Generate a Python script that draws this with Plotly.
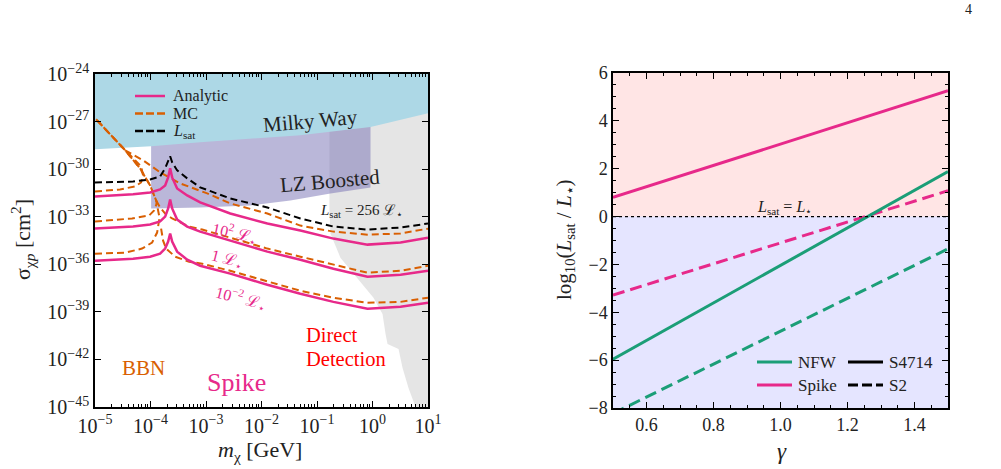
import numpy as np
import plotly.graph_objects as go

FONT = "Liberation Serif"
PINK = "#e7298a"
ORANGE = "#d95f02"
GREEN = "#1b9e77"

# ---------------- Left panel data (log10 m [GeV], log10 sigma [cm^2]) ----------------
lm_an = [-5.000, -4.314, -4.007, -3.827, -3.736, -3.682, -3.646, -3.610, -3.520, -3.339,
         -3.105, -2.563, -1.895, -1.300, -0.704, -0.090, 0.505, 1.0]
ls_an_1e2 = [-31.72, -31.59, -31.47, -31.28, -31.03, -30.52, -29.95, -30.52, -31.22, -31.66,
             -32.10, -32.80, -33.43, -33.87, -34.38, -34.76, -34.63, -34.32]
ls_an_1 = [-33.75, -33.62, -33.49, -33.30, -32.99, -32.48, -31.91, -32.48, -33.18, -33.62,
           -33.94, -34.51, -35.20, -35.71, -36.28, -36.78, -36.66, -36.41]
ls_an_1em2 = [-35.77, -35.65, -35.52, -35.33, -35.01, -34.57, -34.06, -34.57, -35.20, -35.71,
              -36.09, -36.59, -37.29, -37.86, -38.37, -38.81, -38.68, -38.43]
ls_lsat = [-30.84, -30.78, -30.65, -30.46, -29.95, -29.51, -29.19, -29.57, -30.08, -30.58,
           -31.15, -31.85, -32.42, -33.11, -33.62, -33.81, -33.68, -33.43]

# MC curves: low-mass branch (returns up along the attenuation ceiling) and high-mass branch
lm_mc1_low = [-5.000, -4.549, -4.278, -4.170, -4.134, -4.170, -4.278, -4.458, -4.729, -5.000]
ls_mc1_low = [-31.41, -31.28, -31.09, -30.84, -30.39, -29.82, -29.44, -28.81, -27.80, -26.78]
lm_mc1_high = [-4.458, -4.134, -3.827, -3.466, -2.978, -2.563, -1.895, -1.300, -0.704, -0.090, 0.505, 1.0]
ls_mc1_high = [-28.81, -29.44, -30.20, -30.90, -31.53, -32.16, -32.80, -33.56, -33.94, -34.13, -34.06, -33.75]

lm_mc2_low = [-5.000, -4.332, -4.025, -3.935, -3.881, -3.899, -4.007, -4.188, -4.458, -4.729, -5.000]
ls_mc2_low = [-33.30, -33.11, -32.92, -32.61, -32.10, -31.97, -31.03, -29.95, -28.81, -27.80, -26.78]
lm_mc2_high = [-3.899, -3.827, -3.736, -3.610, -3.303, -3.069, -2.563, -1.895, -1.300, -0.704, -0.090, 0.505, 1.0]
ls_mc2_high = [-31.97, -32.42, -32.80, -33.11, -33.62, -33.81, -34.32, -35.01, -35.52, -36.03, -36.53, -36.41, -36.09]

lm_mc3_low = [-5.000, -4.458, -4.152, -3.971, -3.881, -3.845, -3.845, -3.899, -4.007, -4.188, -4.458, -4.729, -5.000]
ls_mc3_low = [-35.33, -35.27, -35.01, -34.63, -34.00, -33.24, -32.92, -31.97, -31.03, -29.95, -28.81, -27.80, -26.78]
lm_mc3_high = [-3.809, -3.773, -3.718, -3.556, -3.303, -3.069, -2.563, -1.895, -1.300, -0.704, -0.090, 0.505, 1.0]
ls_mc3_high = [-33.75, -34.51, -35.01, -35.52, -35.84, -35.96, -36.41, -37.10, -37.67, -38.11, -38.43, -38.37, -38.11]

# Excluded regions
mw_lm = [-5.0, -3.989, -3.105, -1.300, -0.036, 1.0, 1.0, -5.0]
mw_ls = [-28.75, -28.56, -28.30, -27.86, -27.35, -26.47, -24.0, -24.0]
lz_lm = [-3.989, -3.105, -1.300, -0.036, -0.036, -0.758, -1.480, -2.202, -3.105, -3.989]
lz_ls = [-28.40, -28.15, -27.70, -27.20, -31.15, -31.53, -31.97, -32.29, -32.42, -32.48]
dd_lm = [-0.776, 1.0, 1.0, 0.776, 0.650, 0.542, 0.469, 0.271, 0.235, 0.181, 0.018,
         -0.271, -0.578, -0.758, -0.776]
dd_ls = [-26.0, -26.0, -45.0, -45.0, -43.81, -42.54, -41.34, -41.03, -40.39, -39.13, -38.11,
         -36.85, -35.58, -34.06, -32.61]

x_dec = [-5, -4, -3, -2, -1, 0, 1]
y_dec = [-24, -27, -30, -33, -36, -39, -42, -45]

# ---------------- Right panel data ----------------
gamma = [0.5, 0.75, 1.0, 1.25, 1.5]
nfw_s4714 = [-5.96, -4.00, -2.04, -0.08, 1.88]
nfw_s2 = [-8.23, -6.51, -4.79, -3.07, -1.35]
spike_s4714 = [0.80, 1.92, 3.03, 4.15, 5.26]
spike_s2 = [-3.28, -2.19, -1.10, -0.01, 1.08]
g_ticks = [0.6, 0.8, 1.0, 1.2, 1.4]

W, H = 1001, 469


def P(px, py):
    return px / W, 1 - py / H


def E(a):
    return 10.0 ** np.asarray(a, dtype=float)


fig = go.Figure()

# regions
fig.add_trace(go.Scatter(x=E(dd_lm), y=E(dd_ls), fill="toself", fillcolor="rgb(229,229,229)",
                         line=dict(width=0), mode="lines", showlegend=False, hoverinfo="skip"))
fig.add_trace(go.Scatter(x=E(lz_lm), y=E(lz_ls), fill="toself", fillcolor="rgba(117,112,179,0.5)",
                         line=dict(width=0), mode="lines", showlegend=False, hoverinfo="skip"))
fig.add_trace(go.Scatter(x=E(mw_lm), y=E(mw_ls), fill="toself", fillcolor="#add8e6",
                         line=dict(width=0), mode="lines", showlegend=False, hoverinfo="skip"))

DASH_L = "7px,4px"
# MC curves
for lmx, lsx in [(lm_mc1_low, ls_mc1_low), (lm_mc1_high, ls_mc1_high),
                 (lm_mc2_low, ls_mc2_low), (lm_mc2_high, ls_mc2_high),
                 (lm_mc3_low, ls_mc3_low), (lm_mc3_high, ls_mc3_high)]:
    fig.add_trace(go.Scatter(x=E(lmx), y=E(lsx), mode="lines", name="MC",
                             line=dict(color=ORANGE, width=2, dash=DASH_L),
                             showlegend=False, hoverinfo="skip"))
# Lsat curve
fig.add_trace(go.Scatter(x=E(lm_an), y=E(ls_lsat), mode="lines", name="Lsat",
                         line=dict(color="black", width=2, dash=DASH_L),
                         showlegend=False, hoverinfo="skip"))
# Analytic curves
for lsx in [ls_an_1e2, ls_an_1, ls_an_1em2]:
    fig.add_trace(go.Scatter(x=E(lm_an), y=E(lsx), mode="lines", name="Analytic",
                             line=dict(color=PINK, width=2.5),
                             showlegend=False, hoverinfo="skip"))

# ---------------- Right panel ----------------
DASH_R = "12px,6px"
fig.add_trace(go.Scatter(x=gamma, y=spike_s4714, mode="lines", xaxis="x2", yaxis="y2",
                         line=dict(color=PINK, width=3), showlegend=False))
fig.add_trace(go.Scatter(x=gamma, y=spike_s2, mode="lines", xaxis="x2", yaxis="y2",
                         line=dict(color=PINK, width=3, dash=DASH_R), showlegend=False))
fig.add_trace(go.Scatter(x=gamma, y=nfw_s4714, mode="lines", xaxis="x2", yaxis="y2",
                         line=dict(color=GREEN, width=3), showlegend=False))
fig.add_trace(go.Scatter(x=gamma, y=nfw_s2, mode="lines", xaxis="x2", yaxis="y2",
                         line=dict(color=GREEN, width=3, dash=DASH_R), showlegend=False))

# background shading right panel
shapes = [
    dict(type="rect", xref="x2", yref="y2", x0=0.5, x1=1.5, y0=0, y1=6,
         fillcolor="rgba(255,0,0,0.1)", line=dict(width=0), layer="below"),
    dict(type="rect", xref="x2", yref="y2", x0=0.5, x1=1.5, y0=-8, y1=0,
         fillcolor="rgba(0,0,255,0.1)", line=dict(width=0), layer="below"),
    dict(type="line", xref="x2", yref="y2", x0=0.5, x1=1.5, y0=0, y1=0,
         line=dict(color="black", width=1.2, dash="dot")),
]

ann = []


def A(px, py, text, size, color="#222", angle=0, xanchor="center", align="center"):
    x, y = P(px, py)
    ann.append(dict(x=x, y=y, xref="paper", yref="paper", text=text, showarrow=False,
                    font=dict(family=FONT, size=size, color=color), textangle=angle,
                    xanchor=xanchor, yanchor="middle", align=align, borderpad=0))


def legend_line(px0, px1, py, color, width, dash="solid"):
    x0, y0 = P(px0, py)
    x1, _ = P(px1, py)
    shapes.append(dict(type="line", xref="paper", yref="paper", x0=x0, x1=x1, y0=y0, y1=y0,
                       line=dict(color=color, width=width, dash=dash)))


# left legend
legend_left = [("Analytic", PINK, "solid"), ("MC", ORANGE, "8px,3px"),
               ("<i>L</i><sub>sat</sub>", "black", "8px,3px")]
for i, (lab, col, dsh) in enumerate(legend_left):
    yy = 96 + i * 17.5
    legend_line(135, 165, yy, col, 2.5, dsh)
    A(172, yy, lab, 16, xanchor="left", align="left")

# right legend (two columns)
legend_right = [("NFW", GREEN, "solid", 757, 362), ("Spike", PINK, "solid", 757, 385),
                ("S4714", "black", "solid", 848, 362), ("S2", "black", "10px,4px", 848, 385)]
for lab, col, dsh, x0, yy in legend_right:
    legend_line(x0, x0 + 35, yy, col, 3, dsh)
    A(x0 + 40, yy, lab, 17, xanchor="left", align="left")

common = dict(showline=True, linecolor="black", linewidth=1.5, mirror="allticks",
              ticks="inside", tickcolor="black", ticklen=6, tickwidth=1.2,
              showgrid=False, zeroline=False, automargin=False)


def sup(n):
    return "10<sup>" + ("\u2212" + str(-n) if n < 0 else str(n)) + "</sup>"


minor_x = [10.0 ** d * k for d in x_dec[:-1] for k in range(2, 10)]

xl0, _ = P(95, 0)
xl1, _ = P(428, 0)
xr0, _ = P(613, 0)
xr1, _ = P(948, 0)
_, yt = P(0, 74)
_, yb = P(0, 407)
_, yt2 = P(0, 73)
_, yb2 = P(0, 408)

LTICK = dict(family=FONT, size=20, color="#222")
RTICK = dict(family=FONT, size=18, color="#222")

fig.update_layout(
    width=W, height=H, margin=dict(l=0, r=0, t=0, b=0, autoexpand=False),
    paper_bgcolor="white", plot_bgcolor="rgba(0,0,0,0)", showlegend=False,
    xaxis=dict(common, type="log", range=[-5, 1], domain=[xl0, xl1], anchor="y",
               tickvals=[10.0 ** d for d in x_dec], ticktext=[sup(d) for d in x_dec],
               tickfont=LTICK,
               minor=dict(tickvals=minor_x, ticks="inside", ticklen=3, tickcolor="black", tickwidth=1)),
    yaxis=dict(common, type="log", range=[-45, -24], domain=[yb, yt], anchor="x",
               tickvals=[10.0 ** d for d in y_dec], ticktext=[sup(d) for d in y_dec],
               tickfont=LTICK),
    xaxis2=dict(common, range=[0.5, 1.5], domain=[xr0, xr1], anchor="y2",
                tickvals=g_ticks, ticktext=["%.1f" % g for g in g_ticks], tickfont=RTICK,
                minor=dict(dtick=0.05, tick0=0.5, ticks="inside", ticklen=3, tickcolor="black", tickwidth=1)),
    yaxis2=dict(common, range=[-8, 6], domain=[yb2, yt2], anchor="x2", dtick=2, tick0=0,
                tickfont=RTICK,
                minor=dict(dtick=0.5, tick0=0, ticks="inside", ticklen=3, tickcolor="black", tickwidth=1)),
    shapes=shapes,
)

A(310, 121, "Milky Way", 21, angle=-5)
A(330, 181, "LZ Boosted", 21, angle=-5)
A(361, 211, "<i>L</i><sub>sat</sub> = 256 ℒ<sub>⋆</sub>", 15)
A(235, 233, "10<sup>2</sup> ℒ<sub>⋆</sub>", 16, color=PINK, angle=12)
A(227, 259, "1 ℒ<sub>⋆</sub>", 16, color=PINK, angle=14)
A(241, 298, "10<sup>\u22122</sup> ℒ<sub>⋆</sub>", 16, color=PINK, angle=14)
A(143, 368, "BBN", 21, color=ORANGE)
A(236, 382, "Spike", 26, color=PINK)
A(305, 335, "Direct", 20.5, color="red", xanchor="left", align="left")
A(305, 359, "Detection", 20.5, color="red", xanchor="left", align="left")
A(260, 451, "<i>m</i><sub>χ</sub> [GeV]", 22)
A(22, 240, "σ<sub>χ<i>p</i></sub> [cm<sup>2</sup>]", 22, angle=-90)
A(784, 207, "<i>L</i><sub>sat</sub> = <i>L</i><sub>⋆</sub>", 16)
A(782, 451, "<i>γ</i>", 23)
A(565, 240, "log<sub>10</sub>(<i>L</i><sub>sat</sub> / <i>L</i><sub>⋆</sub>)", 21, angle=-90)
A(968, 10, "4", 14)

fig.update_layout(annotations=ann)

fig.write_html("out.html")
